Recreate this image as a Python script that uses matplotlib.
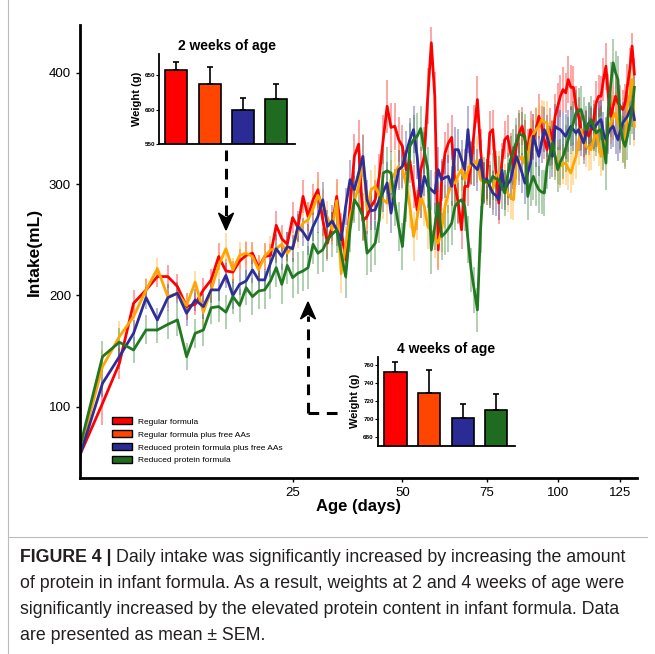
import matplotlib
matplotlib.use('Agg')
import matplotlib.pyplot as plt
import numpy as np
from matplotlib.lines import Line2D
from matplotlib.patches import Patch, Polygon

plt.rcParams['font.family'] = ['Liberation Sans', 'DejaVu Sans']

# daily intake (mL), days 1..131
days = np.arange(1, 132)

red = [58, 103, 139, 193, 205, 217, 217, 208, 190, 192,
       205, 214, 235, 222, 221, 231, 236, 238, 225, 235,
       236, 263, 251, 246, 270, 261, 289, 271, 286, 295,
       268, 247, 262, 289, 259, 232, 280, 325, 336, 267,
       271, 280, 286, 307, 340, 370, 351, 352, 340, 334,
       313, 321, 298, 277, 313, 325, 379, 427, 379, 241,
       304, 328, 337, 342, 298, 283, 259, 298, 298, 319,
       349, 376, 331, 301, 304, 346, 349, 313, 283, 319,
       340, 343, 328, 316, 334, 346, 352, 340, 331, 349,
       340, 349, 361, 352, 340, 331, 349, 340, 361, 370,
       379, 385, 382, 394, 387, 387, 370, 361, 349, 343,
       349, 343, 349, 358, 373, 379, 379, 394, 406, 379,
       361, 370, 379, 373, 370, 367, 373, 388, 403, 424, 399]

orange = [62, 136, 163, 181, 205, 224, 199, 202, 191, 212,
          185, 205, 227, 242, 223, 236, 238, 235, 223, 235,
          241, 242, 246, 238, 244, 257, 265, 268, 278, 290,
          280, 270, 259, 285, 220, 245, 271, 285, 298, 325,
          277, 295, 298, 290, 286, 283, 304, 310, 316, 313,
          300, 280, 253, 270, 289, 280, 262, 258, 252, 247,
          259, 280, 292, 301, 301, 308, 313, 304, 312, 319,
          318, 322, 304, 302, 301, 298, 295, 307, 310, 313,
          300, 292, 288, 286, 319, 322, 325, 318, 322, 340,
          345, 349, 352, 358, 356, 355, 340, 332, 325, 320,
          316, 318, 319, 314, 310, 318, 325, 338, 349, 340,
          334, 332, 331, 340, 349, 335, 325, 332, 340, 348,
          355, 360, 364, 356, 349, 340, 334, 370, 380, 394, 352]

blue = [58, 121, 145, 166, 198, 178, 198, 202, 184, 196,
        190, 205, 205, 218, 200, 210, 213, 223, 214, 214,
        229, 242, 235, 244, 242, 262, 257, 250, 262, 271,
        286, 262, 267, 259, 250, 280, 304, 295, 310, 325,
        286, 276, 277, 286, 293, 301, 274, 295, 313, 316,
        328, 340, 349, 325, 289, 307, 298, 295, 292, 313,
        304, 306, 307, 298, 331, 331, 322, 313, 349, 319,
        316, 313, 322, 301, 305, 298, 292, 290, 286, 313,
        295, 300, 304, 315, 325, 318, 310, 301, 310, 319,
        343, 334, 325, 338, 349, 343, 334, 325, 352, 350,
        349, 346, 343, 348, 352, 349, 346, 349, 343, 337,
        346, 355, 352, 349, 353, 356, 358, 346, 340, 346,
        350, 352, 345, 340, 348, 355, 358, 361, 366, 370, 358]

green = [66, 145, 158, 151, 169, 169, 174, 178, 145, 166,
         169, 189, 190, 185, 199, 191, 207, 199, 204, 205,
         213, 225, 210, 227, 216, 220, 222, 225, 246, 238,
         241, 250, 255, 259, 238, 217, 259, 286, 280, 271,
         238, 242, 247, 268, 310, 312, 310, 283, 262, 244,
         286, 334, 340, 343, 350, 330, 313, 241, 262, 283,
         253, 256, 260, 265, 280, 284, 286, 280, 250, 223,
         205, 187, 259, 304, 302, 301, 307, 305, 304, 298,
         292, 308, 322, 330, 338, 345, 344, 343, 289, 300,
         307, 300, 295, 293, 292, 316, 326, 337, 325, 313,
         320, 325, 332, 340, 348, 355, 364, 366, 367, 358,
         349, 353, 358, 352, 346, 348, 349, 335, 319, 367,
         390, 409, 400, 394, 352, 340, 334, 343, 355, 367, 387]

# SEM of daily intake
red_err = [8, 19, 14, 12, 10, 9, 10, 11, 12, 10,
           11, 10, 12, 11, 10, 11, 12, 10, 11, 12,
           10, 13, 12, 11, 14, 12, 15, 13, 14, 16,
           15, 14, 13, 16, 15, 17, 16, 20, 22, 18,
           16, 17, 18, 20, 22, 24, 22, 21, 20, 19,
           18, 20, 19, 18, 20, 22, 25, 14, 22, 18,
           17, 19, 18, 20, 19, 18, 17, 19, 18, 20,
           22, 21, 19, 18, 19, 20, 18, 17, 19, 18,
           17, 19, 18, 17, 19, 18, 17, 18, 19, 17,
           18, 19, 20, 18, 17, 18, 19, 18, 20, 21,
           19, 20, 18, 21, 20, 19, 18, 17, 18, 19,
           18, 17, 19, 18, 20, 19, 18, 19, 21, 20,
           19, 18, 17, 18, 19, 18, 17, 20, 19, 12, 14]

orange_err = [6, 15, 14, 12, 11, 10, 10, 9, 11, 10,
              12, 11, 12, 14, 11, 12, 11, 10, 12, 11,
              12, 11, 13, 12, 13, 14, 13, 15, 14, 15,
              16, 15, 14, 16, 18, 17, 16, 18, 19, 20,
              17, 18, 19, 18, 17, 19, 18, 20, 19, 18,
              20, 19, 22, 20, 19, 18, 20, 19, 18, 22,
              20, 19, 18, 20, 19, 18, 19, 20, 18, 19,
              20, 21, 19, 18, 20, 19, 18, 19, 20, 19,
              18, 17, 19, 18, 20, 19, 18, 19, 20, 19,
              18, 20, 19, 18, 19, 20, 19, 18, 19, 20,
              19, 18, 20, 19, 18, 19, 20, 21, 19, 18,
              19, 20, 18, 19, 20, 19, 18, 20, 19, 18,
              19, 20, 19, 18, 19, 20, 19, 18, 19, 20, 18]

blue_err = [6, 12, 11, 12, 10, 11, 12, 10, 11, 10,
            11, 12, 10, 11, 12, 10, 11, 12, 11, 10,
            12, 13, 12, 13, 12, 14, 13, 14, 13, 15,
            16, 15, 14, 15, 16, 17, 18, 17, 18, 19,
            18, 17, 18, 17, 18, 19, 18, 19, 18, 19,
            20, 19, 21, 20, 19, 18, 19, 18, 19, 20,
            19, 18, 19, 18, 20, 19, 18, 19, 21, 19,
            18, 19, 18, 19, 18, 19, 20, 19, 18, 19,
            18, 19, 18, 19, 20, 19, 18, 19, 18, 19,
            20, 19, 18, 19, 20, 19, 18, 19, 20, 19,
            18, 19, 20, 19, 18, 19, 20, 19, 18, 19,
            20, 19, 18, 19, 20, 19, 18, 19, 20, 19,
            18, 19, 18, 19, 20, 19, 18, 19, 18, 19, 18]

green_err = [7, 14, 13, 12, 13, 12, 13, 14, 12, 13,
             14, 15, 14, 15, 16, 15, 16, 17, 16, 17,
             16, 17, 18, 17, 18, 19, 18, 19, 18, 19,
             20, 19, 20, 21, 20, 19, 20, 21, 22, 21,
             20, 21, 20, 21, 22, 21, 20, 21, 22, 21,
             20, 21, 22, 21, 20, 21, 20, 22, 21, 20,
             21, 20, 21, 20, 21, 20, 21, 22, 21, 20,
             21, 20, 21, 20, 21, 20, 21, 20, 21, 20,
             21, 20, 21, 20, 21, 22, 21, 20, 21, 20,
             21, 20, 21, 20, 21, 20, 21, 20, 21, 20,
             21, 20, 21, 20, 21, 20, 21, 20, 21, 20,
             21, 20, 21, 20, 21, 20, 21, 22, 24, 21,
             20, 21, 20, 21, 20, 21, 20, 21, 20, 22, 21]

labels = ['Regular formula', 'Regular formula plus free AAs',
          'Reduced protein formula plus free AAs', 'Reduced protein formula']
line_colors = ['#FF0000', '#FFA500', '#2E2E99', '#217821']
bar_colors = ['#FF0000', '#FF4500', '#2B2B96', '#1F6B1F']

# body weight insets
wk2_mean = [657.7, 637.0, 599.5, 615.5]
wk2_sem = [11.3, 25.5, 17.5, 21.5]
wk4_mean = [751.5, 728.7, 700.7, 709.4]
wk4_sem = [12.1, 26.1, 15.5, 18.2]

W, H = 655, 654
fig = plt.figure(figsize=(6.55, 6.54), dpi=100)


def fx(px):
    return px / W


def fy(py):
    return 1 - py / H


ax = fig.add_axes([fx(80), fy(478), fx(636.7) - fx(80), fy(25) - fy(478)])
ax.set_xscale('function', functions=(lambda v: np.sqrt(np.clip(v, 0, None)), lambda v: v ** 2))

series = [red, orange, blue, green]
errs = [red_err, orange_err, blue_err, green_err]
for vals, e, c in zip(series, errs, line_colors):
    v = np.array(vals)
    e = np.array(e)
    ax.vlines(days, v - e, v + e, color=c, alpha=0.45, lw=1.1, zorder=1)
for vals, c in zip(series, line_colors):
    ax.plot(days, vals, color=c, lw=2.0, zorder=2)

ax.set_xlim(0.98, 132)
ax.set_ylim(36, 443)
ax.set_xticks([25, 50, 75, 100, 125])
ax.set_yticks([100, 200, 300, 400])
ax.tick_params(labelsize=9.5, length=3, width=1)
for s in ['top', 'right']:
    ax.spines[s].set_visible(False)
for s in ['left', 'bottom']:
    ax.spines[s].set_linewidth(2)
ax.set_xlabel('Age (days)', fontsize=12, fontweight='bold', labelpad=0)
ax.set_ylabel('Intake(mL)', fontsize=12.5, fontweight='bold', labelpad=5)

handles = [Patch(facecolor=c, edgecolor='black', lw=1) for c in bar_colors]
ax.legend(handles, labels, loc='lower left', bbox_to_anchor=(fx(104), fy(472)),
          bbox_transform=fig.transFigure, frameon=False, fontsize=6,
          handlelength=2.4, handleheight=0.9, labelspacing=0.55, handletextpad=0.8)


def inset(rect, means, sems, ylim, ticks, title):
    a = fig.add_axes(rect)
    x = np.arange(len(means))
    a.bar(x, means, width=0.66, color=bar_colors, edgecolor='black', lw=1.2, zorder=2)
    a.errorbar(x, means, yerr=[np.zeros(len(sems)), sems], fmt='none', ecolor='black',
               elinewidth=1.2, capsize=2.5, capthick=1.2, zorder=3)
    a.set_xlim(-0.52, 3.56)
    a.set_ylim(*ylim)
    a.set_yticks(ticks)
    a.set_xticks([])
    a.tick_params(axis='y', labelsize=4.5, length=2, width=0.8, pad=1)
    for t in a.get_yticklabels():
        t.set_fontweight('bold')
    for s in ['top', 'right']:
        a.spines[s].set_visible(False)
    for s in ['left', 'bottom']:
        a.spines[s].set_linewidth(1.3)
    a.set_ylabel('Weight (g)', fontsize=8, fontweight='bold', labelpad=2)
    a.set_title(title, fontsize=10, fontweight='bold', pad=3)
    return a


inset([fx(159), fy(144), fx(295) - fx(159), fy(54) - fy(144)],
      wk2_mean, wk2_sem, (550, 681), [550, 600, 650], '2 weeks of age')
inset([fx(378), fy(446), fx(515) - fx(378), fy(356.7) - fy(446)],
      wk4_mean, wk4_sem, (670, 769), [680, 700, 720, 740, 760], '4 weeks of age')


def head(tipx, tipy, direction):
    # stealth-like arrow head in pixel coords, direction +1 points down, -1 up
    L, hw, notch = 17, 7.5, 5
    pts = [(tipx, tipy), (tipx - hw, tipy - direction * L),
           (tipx, tipy - direction * (L - notch)), (tipx + hw, tipy - direction * L)]
    fig.add_artist(Polygon([(fx(a), fy(b)) for a, b in pts], closed=True,
                           facecolor='black', edgecolor='black', transform=fig.transFigure))


dash = dict(color='black', lw=2.2, ls=(0, (3.5, 2.5)), transform=fig.transFigure)
fig.add_artist(Line2D([fx(226), fx(226)], [fy(150), fy(216)], **dash))
head(226, 230, 1)
fig.add_artist(Line2D([fx(308), fx(308)], [fy(413), fy(316)], **dash))
fig.add_artist(Line2D([fx(308), fx(338)], [fy(413), fy(413)], **dash))
head(308, 302, -1)

# caption block
fig.add_artist(Line2D([fx(8), fx(8)], [0, 1], color='#bbbbbb', lw=0.8, transform=fig.transFigure))
fig.add_artist(Line2D([fx(8), fx(647)], [fy(537), fy(537)], color='#bbbbbb', lw=0.8,
                      transform=fig.transFigure))
cap_kw = dict(fontsize=12.8, color='#231f20', va='center', ha='left')
t0 = fig.text(fx(20), fy(557), 'FIGURE 4 |', fontweight='bold', **cap_kw)
r = fig.canvas.get_renderer()
bb = t0.get_window_extent(renderer=r)
fig.text(bb.x1 / fig.bbox.width + fx(5), fy(557),
         'Daily intake was significantly increased by increasing the amount', **cap_kw)
fig.text(fx(20), fy(583), 'of protein in infant formula. As a result, weights at 2 and 4 weeks of age were', **cap_kw)
fig.text(fx(20), fy(609), 'significantly increased by the elevated protein content in infant formula. Data', **cap_kw)
fig.text(fx(20), fy(635), 'are presented as mean \u00b1 SEM.', **cap_kw)

fig.savefig('out.png', dpi=100)
